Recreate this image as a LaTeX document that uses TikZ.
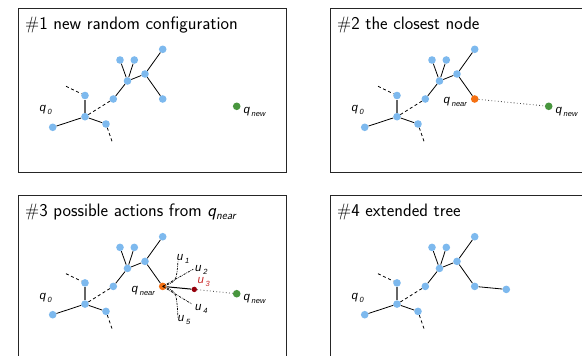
\documentclass[tikz,border=0pt]{standalone}
\usepackage{fontspec}
\newfontfamily\labfont{Liberation Sans}
\definecolor{treeblue}{RGB}{125,185,238}
\definecolor{nearorange}{RGB}{245,112,18}
\definecolor{newgreen}{RGB}{72,150,62}
\definecolor{actred}{RGB}{150,0,12}
\definecolor{labred}{RGB}{200,40,40}
% label with a detached subscript, e.g. q_0
\newcommand\qsub[2]{#1\hspace{1.8pt}\raisebox{-3pt}{\fontsize{7.5}{8}\selectfont #2}}
% the common part of the search tree; #1 = name prefix, #2 = colour of node K
\newcommand\rrtree[2]{%
  \node[tn] (#1A) at (52.7,127.3) {};
  \node[tn] (#1B) at (85,116.7) {};
  \node[tn] (#1C) at (85,95.5) {};
  \node[tn] (#1D) at (106,124) {};
  \node[tn] (#1E) at (113.3,99) {};
  \node[tn] (#1F) at (127.5,81) {};
  \node[tn] (#1G) at (120,60) {};
  \node[tn] (#1H) at (134.3,60) {};
  \node[tn] (#1I) at (145,74) {};
  \node[tn] (#1J) at (162.7,49.3) {};
  \node[tn, fill=#2] (#1K) at (162.7,99) {};
  \coordinate (#1X) at (66,86.3);
  \coordinate (#1Y) at (112.7,143.3);
  \draw[edge] (#1A) -- (#1B);
  \draw[edge] (#1B) -- (#1D);
  \draw[edge, draw=black!60, line width=1.2pt] (#1B) -- (#1C);
  \draw[dsh] (#1X) -- (#1C);
  \draw[dsh] (#1D) -- (#1Y);
  \draw[dsh] (#1B) -- (#1E);
  \draw[edge] (#1E) -- (#1F);
  \draw[edge] (#1F) -- (#1G);
  \draw[edge] (#1F) -- (#1H);
  \draw[edge] (#1F) -- (#1I);
  \draw[edge] (#1I) -- (#1J);
  \draw[edge] (#1I) -- (#1K);
  \node[lab] (#1q0) at (39.3,111.8) {\qsub{q}{0}};
}
\begin{document}
\begin{tikzpicture}[x=1pt,y=-1pt,
  tn/.style={circle, fill=treeblue, inner sep=0pt, minimum size=7.6pt},
  edge/.style={draw=black, line width=0.8pt},
  dsh/.style={draw=black, line width=0.8pt, dash pattern=on 3pt off 2.6pt},
  dots/.style={draw=black!75, line width=0.8pt, dash pattern=on 0.8pt off 2.4pt},
  act/.style={draw=black, line width=0.7pt, dash pattern=on 2.2pt off 1pt on 0.6pt off 1pt},
  panel/.style={draw=black!85, line width=0.9pt},
  ttl/.style={anchor=base west, inner sep=0pt, font=\sffamily\fontsize{18}{21}\selectfont},
  lab/.style={anchor=base west, inner sep=0pt, font=\labfont\itshape\fontsize{11.5}{12}\selectfont}]
\useasboundingbox (0,0) rectangle (582,356);
\clip (0,0) rectangle (582,356);
\fill[white] (0,0) rectangle (582,356);

% panel 1: new random configuration
\draw[panel] (18.3,8.3) rectangle (286.7,172.3);
\node[ttl] (t1) at (25,29.3) {\#1 new random configuration};
\rrtree{a}{treeblue}
\node[tn, fill=newgreen] (aN) at (236.7,106.3) {};
\node[lab] (aNl) at (243.3,113.5) {\qsub{q}{new}};

% panel 2: the closest node
\begin{scope}[shift={(312,0)}]
\draw[panel] (18.3,8.3) rectangle (286.7,172.3);
\node[ttl] (t2) at (25,29.3) {\#2 the closest node};
\rrtree{b}{nearorange}
\node[tn, fill=newgreen] (bN) at (236.7,106.3) {};
\node[lab] (bNl) at (243.3,113.5) {\qsub{q}{new}};
\node[lab] (bKl) at (131.5,103.5) {\qsub{q}{near}};
\draw[dots] (bK) -- (bN);
\end{scope}

% panel 3: possible actions from q_near
\begin{scope}[shift={(0,187.4)}]
\draw[panel] (18.3,8.3) rectangle (286.7,172.3);
\node[ttl] (t3) at (25,29.3) {\#3 possible actions from {\itshape q\raisebox{-3pt}{\fontsize{11.5}{12}\selectfont near}}};
\rrtree{c}{nearorange}
\node[tn, fill=newgreen] (cN) at (236.7,106.3) {};
\node[lab] (cNl) at (243.3,113.5) {\qsub{q}{new}};
\node[lab] (cKl) at (131.5,105) {\qsub{q}{near}};
\node[circle, fill=actred, inner sep=0pt, minimum size=5.4pt] (cU) at (194.3,102) {};
\coordinate (cu1) at (178,73.5);
\coordinate (cu2) at (193.3,81.8);
\coordinate (cu4) at (191.7,116.5);
\coordinate (cu5) at (178,130.5);
\draw[act] (cK.center) .. controls (176.5,94) .. (cu1);
\draw[act] (cK.center) -- (cu2);
\draw[act] (cK.center) -- (cu4);
\draw[act] (cK.center) .. controls (176.5,104) .. (cu5);
\draw[edge, line width=1pt] (cK) -- (cU);
\draw[dots] (cU) -- (cN);
\node[lab] (cl1) at (176.7,72.6) {\qsub{u}{1}};
\node[lab] (cl2) at (195,84) {\qsub{u}{2}};
\node[lab, text=labred] (cl3) at (197.3,95.8) {\qsub{u}{3}};
\node[lab] (cl4) at (195,123) {\qsub{u}{4}};
\node[lab] (cl5) at (177.7,134.3) {\qsub{u}{5}};
\end{scope}

% panel 4: extended tree
\begin{scope}[shift={(312,187.4)}]
\draw[panel] (18.3,8.3) rectangle (286.7,172.3);
\node[ttl] (t4) at (25,29.3) {\#4 extended tree};
\rrtree{d}{treeblue}
\node[tn] (dU) at (194.3,102) {};
\draw[edge] (dK) -- (dU);
\end{scope}
\end{tikzpicture}
\end{document}
